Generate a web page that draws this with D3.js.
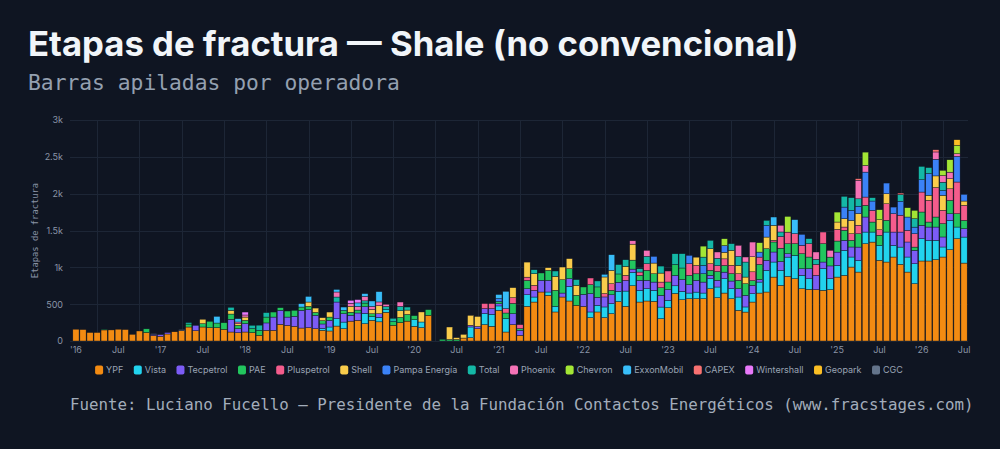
<!DOCTYPE html>
<html>
<head>
<meta charset="utf-8">
<script src="https://cdn.jsdelivr.net/npm/d3@7"></script>
<style>
  html, body { margin: 0; background: #0f1522; }
  svg { display: block; }
</style>
</head>
<body>
<svg id="chart" width="1000" height="449"></svg>
<script>
// operators, bottom to top of each stack
const operators = ["YPF", "Vista", "Tecpetrol", "PAE", "Pluspetrol", "Shell", "Pampa Energía", "Total",
  "Phoenix", "Chevron", "ExxonMobil", "CAPEX", "Wintershall", "Geopark", "CGC"];
const colors = ["#f38b12", "#22d3ee", "#7c5cf6", "#22c55e", "#f45c8c", "#facc4b", "#3b82f6", "#14b8a6",
  "#f472b6", "#a3e635", "#38bdf8", "#f87171", "#e879f9", "#fbbf24", "#64748b"];

// monthly frac stages, Jan 2016 .. Jul 2026
const firstMonth = new Date(2016, 0, 1);
const lastMonth = new Date(2026, 6, 1);

const ypf = [160,155,115,115,150,150,160,155,90,136,115,75,
  65,95,125,140,190,140,190,181,181,158,122,113,
  122,113,77,145,145,226,212,199,176,181,167,145,
  136,203,167,270,280,235,280,260,390,213,250,270,
  199,181,349,0,0,0,0,40,45,167,222,200,
  416,122,222,77,470,529,665,620,394,597,543,484,
  470,317,394,317,371,535,470,750,529,543,538,303,
  452,645,560,574,574,574,710,588,651,574,416,393,
  529,651,665,868,755,877,846,710,701,697,688,697,
  868,891,1004,936,1321,1343,1095,1072,1140,1040,936,778,
  1086,1086,1104,1140,1239,1389,1058];
const vista = [0,0,0,0,0,0,0,0,0,0,0,0,
  0,0,0,0,0,0,0,0,0,0,0,0,
  0,0,0,0,0,0,0,0,0,0,0,26,
  54,100,90,0,0,140,50,60,40,0,0,0,
  90,77,0,0,0,0,0,0,145,0,150,163,
  60,181,0,0,158,68,0,45,77,0,199,0,
  0,77,90,145,136,140,208,181,158,167,149,158,
  100,104,113,77,90,77,136,145,194,136,181,69,
  113,149,294,204,204,262,317,181,145,0,294,150,
  158,339,136,158,158,136,204,407,158,235,204,271,
  303,280,262,136,398,158,353];
const tecpetrol = [0,0,0,0,0,0,0,0,0,0,0,15,
  20,20,0,0,0,72,0,0,0,0,172,54,
  113,0,0,100,180,190,113,136,240,244,181,60,
  90,226,113,80,100,90,0,50,0,0,0,0,
  0,0,0,0,0,0,0,0,23,30,68,77,
  30,0,149,68,81,90,158,158,0,54,104,0,
  163,249,110,136,120,122,145,45,136,113,113,158,
  145,140,160,113,158,149,45,90,90,104,113,158,
  113,35,136,136,120,45,0,90,136,194,90,172,
  181,136,136,181,204,0,0,0,181,204,204,181,
  181,181,181,136,90,0,113];
const pae = [0,0,0,0,10,0,0,0,0,0,50,0,
  0,0,0,0,40,0,45,86,63,90,72,45,
  45,55,68,80,68,36,82,81,45,45,40,45,
  45,0,45,40,40,50,40,0,0,50,70,90,
  55,0,77,0,23,20,20,0,0,0,0,0,
  30,77,139,23,113,0,100,136,217,181,136,136,
  100,122,140,0,60,113,0,122,68,136,113,104,
  104,150,158,127,90,113,68,120,90,100,113,158,
  64,204,158,136,181,136,158,204,158,0,249,120,
  150,136,90,181,158,136,136,158,0,0,0,45,
  181,68,136,181,181,181,113];
const pluspetrol = [0,0,0,0,0,0,0,0,0,0,0,0,
  0,0,0,0,0,0,0,0,0,0,0,0,
  0,0,0,0,0,0,0,0,0,0,0,0,
  0,0,0,0,0,0,0,0,0,0,0,0,
  0,0,0,0,0,0,0,0,0,0,68,68,
  0,59,78,54,45,68,0,0,0,0,0,0,
  0,90,0,45,90,0,68,0,45,90,0,77,
  149,0,0,158,113,0,90,80,90,113,90,0,
  120,100,0,22,158,158,136,113,181,150,158,0,
  158,45,90,116,113,158,75,226,249,229,158,181,
  271,294,400,181,158,430,204];
const shell = [0,0,0,0,0,0,0,0,0,0,0,0,
  0,0,0,0,0,0,60,0,0,0,50,23,
  45,0,0,0,0,0,0,0,0,59,59,40,
  68,0,0,80,0,0,60,110,0,0,90,60,
  0,136,0,0,0,170,25,50,135,136,0,0,
  0,0,136,0,204,158,0,36,190,172,136,136,
  0,0,0,226,181,0,122,217,0,0,145,122,
  0,0,0,0,113,0,204,0,90,204,113,90,
  204,0,158,204,0,0,0,0,0,0,0,0,
  100,113,181,158,0,0,136,136,0,0,0,0,
  0,70,158,204,136,0,59];
const pampa = [0,0,0,0,0,0,0,0,0,0,0,0,
  0,0,0,0,0,0,0,0,0,0,0,0,
  0,0,0,0,0,0,0,0,0,0,0,0,
  0,0,0,0,0,0,0,0,0,0,0,0,
  0,0,0,0,0,0,0,0,0,0,0,0,
  40,0,0,0,0,0,0,0,0,0,0,0,
  0,0,0,0,0,0,0,0,0,0,90,0,
  0,0,0,113,0,113,0,0,90,0,0,0,
  0,68,158,0,0,0,0,149,0,0,0,0,
  0,158,136,100,339,127,0,145,90,190,181,90,
  167,294,226,65,0,348,90];
const total = [0,0,0,0,0,0,0,0,0,0,0,0,
  0,0,0,0,20,0,0,0,0,0,41,0,
  0,45,70,60,0,0,0,0,0,0,0,0,
  0,68,0,0,0,30,0,0,38,45,60,41,
  0,0,0,0,0,0,0,0,0,0,0,0,
  0,0,0,0,0,54,0,0,72,0,0,77,
  0,0,81,0,0,127,90,0,45,100,0,95,
  0,145,194,0,0,113,113,100,0,90,122,204,
  0,0,68,0,62,0,0,0,68,67,0,0,
  0,145,172,100,0,45,0,0,0,90,0,114,
  181,81,0,113,0,0,0];
const phoenix = [0,0,0,0,0,0,0,0,0,0,0,0,
  0,0,0,0,0,0,0,0,0,0,0,23,
  28,0,0,0,0,0,0,0,0,0,0,0,
  0,68,0,42,50,60,40,50,30,0,59,0,
  0,0,0,0,0,0,0,0,0,0,0,0,
  0,0,0,0,0,0,0,0,0,0,0,0,
  0,0,0,0,0,0,0,45,0,81,0,0,
  0,0,0,0,0,0,0,85,0,0,150,68,
  200,0,0,0,90,0,0,0,0,100,0,91,
  0,0,0,253,90,0,0,0,0,0,0,0,
  0,0,99,90,90,36,0];
const chevron = [0,0,0,0,0,0,0,0,0,0,0,0,
  0,0,0,0,0,0,0,0,0,0,0,0,
  0,0,0,0,0,0,0,0,0,0,0,0,
  0,0,0,0,0,0,0,0,0,0,0,0,
  0,0,0,0,0,0,0,0,0,0,0,0,
  0,0,0,0,0,0,0,0,0,0,0,0,
  0,0,0,0,0,0,0,0,0,0,0,0,
  0,0,0,0,0,149,0,0,93,0,0,0,
  0,127,0,0,0,213,0,0,0,0,0,0,
  135,0,0,0,181,0,136,0,0,0,126,113,
  0,0,0,70,168,113,0];
const exxon = [0,0,0,0,0,0,0,0,0,0,0,0,
  0,0,0,0,0,0,0,0,90,0,0,45,
  0,0,0,0,0,0,0,0,45,76,0,0,
  0,35,46,0,47,38,73,140,0,0,0,0,
  0,0,0,0,0,0,0,0,0,0,0,0,
  55,235,0,0,0,0,0,0,0,0,0,0,
  0,0,0,36,213,0,0,0,0,0,0,0,
  0,0,0,0,0,0,0,0,0,0,0,0,
  0,0,0,113,0,0,190,0,0,0,0,0,
  0,0,0,0,0,0,0,0,0,0,0,0,
  0,0,0,0,0,0,0];
const capex = [0,0,0,0,0,0,0,0,0,0,0,0,
  0,0,0,0,0,0,0,0,0,0,0,0,
  0,0,0,0,0,0,0,0,0,0,0,0,
  0,0,0,0,0,0,0,0,0,0,0,0,
  0,0,0,0,0,0,0,0,0,0,0,0,
  0,0,0,0,0,0,0,0,0,0,0,0,
  0,0,0,0,0,0,0,0,0,0,0,0,
  0,0,0,0,0,0,0,0,0,0,0,0,
  0,0,0,0,0,0,0,0,0,0,0,0,
  0,0,0,20,0,0,0,0,0,20,0,0,
  0,0,30,0,0,0,0];
const wintershall = [0,0,0,0,0,0,0,0,0,0,0,0,
  0,0,0,0,0,0,0,0,0,0,0,0,
  40,0,0,0,0,0,0,0,0,0,0,0,
  0,0,0,40,45,0,0,0,0,0,0,0,
  0,0,0,0,0,0,0,0,0,0,0,0,
  0,0,0,0,0,0,0,0,0,0,0,0,
  0,0,0,0,0,0,0,0,0,0,0,0,
  0,0,0,0,0,0,0,0,0,0,0,0,
  0,0,0,0,0,0,0,0,0,0,0,0,
  0,0,0,0,0,0,0,0,0,0,0,0,
  0,0,0,0,0,0,0];
const geopark = [0,0,0,0,0,0,0,0,0,0,0,0,
  0,0,0,0,0,0,0,0,0,0,0,0,
  0,0,0,0,0,0,0,0,0,0,0,0,
  0,0,0,0,0,0,0,0,0,0,0,0,
  0,0,0,0,0,0,0,0,0,0,0,0,
  0,0,0,0,0,0,0,0,0,0,0,0,
  0,0,0,0,0,0,0,0,0,0,0,0,
  0,0,0,0,0,0,0,0,0,0,0,0,
  0,0,0,0,0,0,0,0,0,0,0,0,
  0,0,0,0,0,0,0,0,0,0,0,0,
  0,0,0,0,0,77,0];
const cgc = [0,0,0,0,0,0,0,0,0,0,0,10,
  5,0,0,15,0,0,0,0,0,0,0,0,
  0,0,0,0,0,0,0,0,0,0,0,0,
  0,0,0,0,0,0,0,0,0,0,0,0,
  0,0,0,0,0,0,0,0,0,0,0,0,
  0,0,0,0,0,0,0,0,0,0,0,0,
  0,0,0,0,0,0,0,0,0,0,0,0,
  0,0,0,0,0,0,0,0,0,0,0,0,
  0,0,0,0,0,0,0,0,0,0,0,0,
  0,0,0,0,0,0,0,0,0,0,0,0,
  0,0,0,0,0,0,0];

const seriesValues = [ypf, vista, tecpetrol, pae, pluspetrol, shell, pampa, total,
  phoenix, chevron, exxon, capex, wintershall, geopark, cgc];

const yTicks = [0, 500, 1000, 1500, 2000, 2500, 3000];
const yTickLabels = ["0", "500", "1k", "1.5k", "2k", "2.5k", "3k"];

const titleText = "Etapas de fractura — Shale (no convencional)";
const subtitleText = "Barras apiladas por operadora";
const yAxisTitle = "Etapas de fractura";
const sourceText = "Fuente: Luciano Fucello — Presidente de la Fundación Contactos Energéticos (www.fracstages.com)";

(function() {
    var svg = d3.select("#chart");
    var left = 72, right = 968, top = 120, bottom = 341;
    var mono = "'DejaVu Sans Mono', 'Liberation Mono', monospace";
    var sans = "Inter, 'Noto Sans', sans-serif";

    var months = d3.timeMonth.range(firstMonth, d3.timeMonth.offset(lastMonth, 1));

    // one row per month, keyed by operator
    var rows = months.map((m, i) => {
        var r = {month: m};
        operators.forEach((op, k) => r[op] = seriesValues[k][i]);
        return r;
    });
    var stacked = d3.stack().keys(operators)(rows);

    var x = d3.scaleBand()
        .domain(months)
        .range([left, right])
        .padding(0.12);
    var y = d3.scaleLinear()
        .domain([0, 3000])
        .range([bottom, top]);

    // titles
    svg.append("text")
        .attr("x", 28).attr("y", 56)
        .attr("fill", "#f1f5f9")
        .attr("font-family", sans)
        .attr("font-weight", 700)
        .attr("font-size", 34.7)
        .text(titleText);
    svg.append("text")
        .attr("x", 28).attr("y", 90)
        .attr("fill", "#94a0b0")
        .attr("font-family", mono)
        .attr("font-size", 21.3)
        .text(subtitleText);

    // grid
    var grid = svg.append("g").attr("stroke", "#1d2636").attr("stroke-width", 1);
    grid.selectAll("line.h")
        .data(yTicks)
        .join("line")
        .attr("class", "h")
        .attr("x1", left - 2).attr("x2", right)
        .attr("y1", d => Math.round(y(d)) + 0.5)
        .attr("y2", d => Math.round(y(d)) + 0.5);
    grid.selectAll("line.v")
        .data(months.filter(m => m.getMonth() === 3 || m.getMonth() === 9))
        .join("line")
        .attr("class", "v")
        .attr("x1", d => Math.round(x(d) + x.bandwidth() / 2) + 0.5)
        .attr("x2", d => Math.round(x(d) + x.bandwidth() / 2) + 0.5)
        .attr("y1", top).attr("y2", bottom);

    // stacked bars
    svg.append("g")
        .selectAll("g")
        .data(stacked)
        .join("g")
            .attr("fill", (d, i) => colors[i])
        .selectAll("rect")
        .data(d => d.filter(s => s[1] - s[0] > 0))
        .join("rect")
            .attr("x", d => x(d.data.month))
            .attr("y", d => y(d[1]))
            .attr("height", d => y(d[0]) - y(d[1]))
            .attr("width", x.bandwidth())
            .attr("stroke", "#0f1522")
            .attr("stroke-width", 0.4);

    // y axis
    var yAxis = svg.append("g")
        .attr("transform", `translate(${left - 6}, 0)`)
        .call(d3.axisLeft(y).tickValues(yTicks).tickFormat((d, i) => yTickLabels[i]).tickSize(0));
    yAxis.select(".domain").remove();
    yAxis.selectAll("text")
        .attr("fill", "#8a94a6")
        .attr("font-family", sans)
        .attr("font-size", 9);

    svg.append("text")
        .attr("transform", `translate(38, ${(top + bottom) / 2}) rotate(-90)`)
        .attr("text-anchor", "middle")
        .attr("fill", "#8a94a6")
        .attr("font-family", mono)
        .attr("font-size", 8.8)
        .text(yAxisTitle);

    // x axis: years and July
    var xAxis = svg.append("g")
        .attr("transform", `translate(0, ${bottom + 3})`)
        .call(d3.axisBottom(x)
            .tickValues(months.filter(m => m.getMonth() === 0 || m.getMonth() === 6))
            .tickFormat(m => m.getMonth() === 0 ? "'" + d3.timeFormat("%y")(m) : "Jul")
            .tickSize(0));
    xAxis.select(".domain").remove();
    xAxis.selectAll("text")
        .attr("fill", "#8a94a6")
        .attr("font-family", sans)
        .attr("font-size", 9);

    // legend, centred under the plot
    var legend = svg.append("g").attr("transform", "translate(0, 370)");
    var lx = 0, gap = 10.5;
    operators.forEach((op, i) => {
        var item = legend.append("g").attr("transform", `translate(${lx}, 0)`);
        item.append("rect")
            .attr("x", 0).attr("y", -4.5)
            .attr("width", 8).attr("height", 9)
            .attr("rx", 2)
            .attr("fill", colors[i]);
        var t = item.append("text")
            .attr("x", 11).attr("y", 3.2)
            .attr("fill", "#9aa4b4")
            .attr("font-family", sans)
            .attr("font-size", 9)
            .text(op);
        lx += 11 + t.node().getComputedTextLength() + gap;
    });
    legend.attr("transform", `translate(${499 - (lx - gap) / 2}, 370)`);

    // source
    svg.append("text")
        .attr("x", 70).attr("y", 410)
        .attr("fill", "#a3adbb")
        .attr("font-family", mono)
        .attr("font-size", 15.8)
        .text(sourceText);
})();
</script>
</body>
</html>
